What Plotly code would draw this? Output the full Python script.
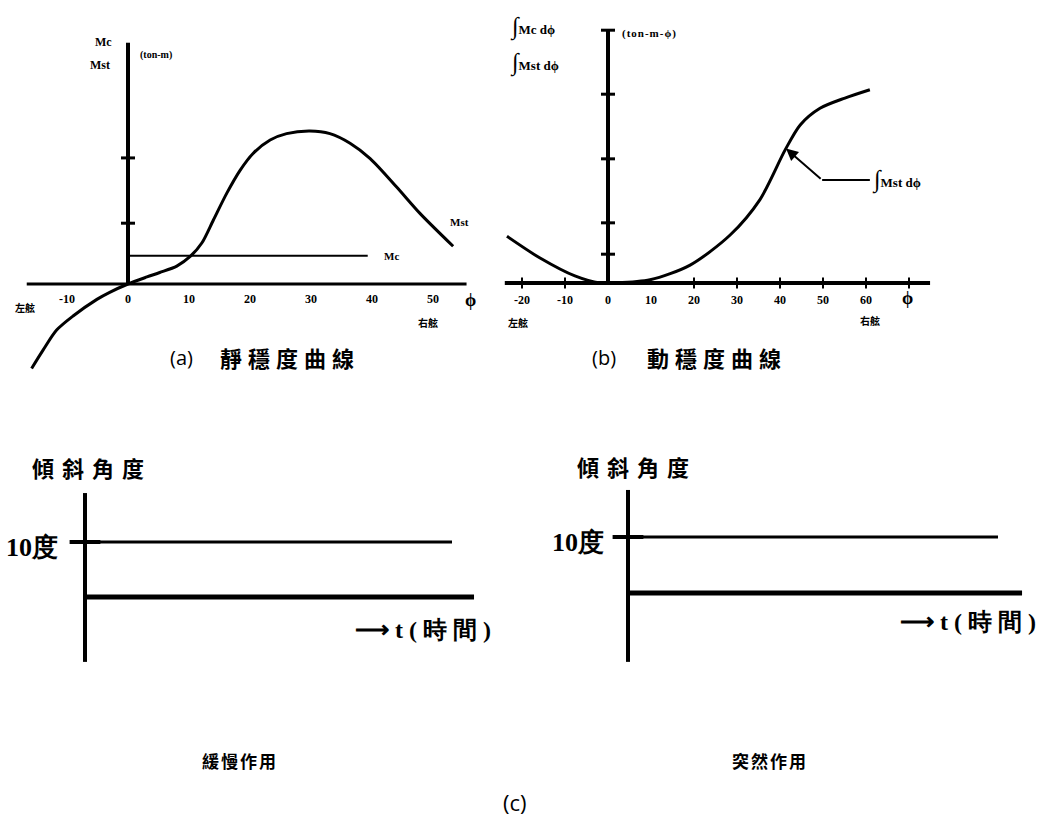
import plotly.graph_objects as go

W, H = 1059, 825

# ---------------- data ----------------
# (a) static stability curve  (phi in degrees, moment in relative units)
phi_a = [-15.8, -13.9, -11.7, -9.0, -5.1, -3.0, 0, 3.1, 5.2, 8.0, 10.2, 12.1, 14.0, 16.2,
         18.4, 20.5, 23.3, 26.0, 29.8, 33.1, 36.4, 39.7, 44.0, 47.9, 53.3]
mst_a = [-1.32, -1.03, -0.72, -0.50, -0.24, -0.13, 0, 0.11, 0.18, 0.28, 0.43, 0.64, 1.00, 1.42,
         1.78, 2.04, 2.25, 2.35, 2.39, 2.35, 2.20, 1.96, 1.52, 1.10, 0.59]
mc_phi = [0, 39.3]
mc_val = [0.44, 0.44]
a_xticks = [-10, 0, 10, 20, 30, 40, 50]
a_xline = [-16.6, 55.5]
a_yline = [0, 3.77]
a_yticks = [0.95, 1.97]

# (b) dynamic stability curve
phi_b = [-23.5, -15.8, -7.7, -1.9, 1.6, 9.8, 19.1, 28.4, 35.3, 41.2, 44.7, 49.3, 55.1, 60.9]
int_b = [0.73, 0.39, 0.11, 0, 0, 0.05, 0.28, 0.75, 1.30, 2.08, 2.47, 2.73, 2.89, 3.02]
b_xticks = [-20, -10, 0, 10, 20, 30, 40, 50, 60]
b_xmarks = [-20, -10, 20, 30, 40, 50, 60, 70]
b_xline = [-24.0, 74.9]
b_yline = [0, 3.95]
b_yticks = [0.45, 0.94, 1.94, 2.95, 3.95]
b_leader_phi = [60.9, 49.8]
b_leader_val = [1.61, 1.61]
b_arrow_tip = (41.4, 2.10)

# (c) heel angle vs time
c_angle = 10
cL_axis = [18.9, -11.8]
cL_thin_t = [0, 10.0]
cL_thick_t = [0, 10.6]
cR_axis = [18.4, -12.3]
cR_thin_t = [0, 10.0]
cR_thick_t = [0, 10.65]

# ---------------- helpers ----------------
def panel(px0, px1, py0, py1, ox, sx, oy, sy):
    xr = [(px0 - ox) / sx, (px1 - ox) / sx]
    yr = [(oy - py1) / sy, (oy - py0) / sy]
    return dict(xd=[px0 / W, px1 / W], yd=[1 - py1 / H, 1 - py0 / H], xr=xr, yr=yr)

def P(px, py):
    return px / W, 1 - py / H

panels = [
    panel(0, 500, 15, 400, 128, 6.1, 284, 64),
    panel(500, 1059, 5, 400, 608, 4.3, 283, 64),
    panel(0, 525, 440, 700, 85, 36.7, 597, 5.5),
    panel(530, 1059, 440, 700, 628, 37.0, 593, 5.6),
]

fig = go.Figure()
layout = dict(width=W, height=H, margin=dict(l=0, r=0, t=0, b=0),
              paper_bgcolor="white", plot_bgcolor="white", showlegend=False)
for i, p in enumerate(panels, start=1):
    s = "" if i == 1 else str(i)
    layout["xaxis" + s] = dict(domain=p["xd"], range=p["xr"], visible=False, anchor="y" + s)
    layout["yaxis" + s] = dict(domain=p["yd"], range=p["yr"], visible=False, anchor="x" + s)
fig.update_layout(**layout)

K = "black"

def line(x, y, ax, w, shape="linear"):
    fig.add_trace(go.Scatter(x=x, y=y, mode="lines", xaxis="x" + ax, yaxis="y" + ax,
                             line=dict(color=K, width=w, shape=shape, smoothing=0.8), hoverinfo="skip"))

def marks(x, y, ax, symbol, size, w):
    fig.add_trace(go.Scatter(x=x, y=y, mode="markers", xaxis="x" + ax, yaxis="y" + ax,
                             marker=dict(symbol=symbol, size=size, color=K,
                                         line=dict(color=K, width=w)), hoverinfo="skip"))

# ---- (a)
line(a_xline, [0, 0], "", 3)
line([0, 0], a_yline, "", 4)
marks([0] * len(a_yticks), a_yticks, "", "line-ew", 10, 3)
line(phi_a, mst_a, "", 3, "spline")
line(mc_phi, mc_val, "", 2)

# ---- (b)
line(b_xline, [0, 0], "2", 4)
line([0, 0], b_yline, "2", 4)
marks([0] * len(b_yticks), b_yticks, "2", "line-ew", 10, 3)
marks(b_xmarks, [0] * len(b_xmarks), "2", "line-ns", 8, 2)
line(phi_b, int_b, "2", 3, "spline")
line(b_leader_phi, b_leader_val, "2", 2)

# ---- (c)
line([0, 0], cL_axis, "3", 4)
line(cL_thin_t, [c_angle, c_angle], "3", 3)
line(cL_thick_t, [0, 0], "3", 5)
marks([0], [c_angle], "3", "line-ew", 22, 4)
line([0, 0], cR_axis, "4", 4)
line(cR_thin_t, [c_angle, c_angle], "4", 3)
line(cR_thick_t, [0, 0], "4", 5)
marks([0], [c_angle], "4", "line-ew", 22, 4)

# ---------------- text ----------------
SERIF = "Liberation Serif"
CJK = "Noto Sans CJK TC"
ann = []

def sp(text, ls):
    return '<span style="letter-spacing:%dpx">%s</span>' % (ls, text)

def txt(text, px, py, size, family=SERIF, xanchor="center", bold=True):
    x, y = P(px, py)
    ann.append(dict(text=("<b>%s</b>" % text) if bold else text, x=x, y=y, xref="paper", yref="paper",
                    xanchor=xanchor, yanchor="middle", showarrow=False,
                    font=dict(family=family, size=size, color=K)))

# tick labels from axis scales
for v in a_xticks:
    ann.append(dict(text="<b>%d</b>" % v, x=v, y=0, xref="x", yref="y", yanchor="top", yshift=-6,
                    showarrow=False, font=dict(family=SERIF, size=12, color=K)))
for v in b_xticks:
    ann.append(dict(text="<b>%d</b>" % v, x=v, y=0, xref="x2", yref="y2", yanchor="top", yshift=-8,
                    showarrow=False, font=dict(family=SERIF, size=12, color=K)))

INT = '<span style="font-size:24px">∫</span>'

# (a)
txt("Mc", 103, 42, 12)
txt("Mst", 100, 65, 12)
txt("(ton-m)", 138, 55, 10, xanchor="left")
txt("Mc", 382, 256, 11, xanchor="left")
txt("Mst", 448, 222, 11, xanchor="left")
txt("ϕ", 470, 300, 18)
txt("左舷", 25, 308, 10, CJK)
txt("右舷", 428, 322, 10, CJK)
txt("(a)", 181, 357, 20, "Open Sans", bold=False)
txt(sp("靜穩度曲線", 6), 290, 357, 22, CJK)

# (b)
txt(INT + "Mc dϕ", 508, 27, 13, xanchor="left")
txt(INT + "Mst dϕ", 508, 63, 13, xanchor="left")
txt(sp("(ton-m-ϕ)", 1), 620, 33, 11, xanchor="left")
txt(INT + "Mst dϕ", 870, 180, 13, xanchor="left")
txt("ϕ", 907, 298, 18)
txt("左舷", 518, 322, 10, CJK)
txt("右舷", 870, 320, 10, CJK)
txt("(b)", 604, 357, 20, "Open Sans", bold=False)
txt(sp("動穩度曲線", 6), 717, 357, 22, CJK)
ann.append(dict(x=b_arrow_tip[0], y=b_arrow_tip[1], ax=b_leader_phi[1], ay=b_leader_val[1],
                xref="x2", yref="y2", axref="x2", ayref="y2", text="", showarrow=True,
                arrowhead=2, arrowsize=1.2, arrowwidth=2, arrowcolor=K))

# (c)
txt(sp("傾斜角度", 8), 92, 467, 22, CJK)
txt("10度", 32, 547, 26, SERIF)
txt("⟶ " + sp("t(時間)", 6), 353, 630, 24, SERIF, xanchor="left")
txt(sp("傾斜角度", 8), 637, 466, 22, CJK)
txt("10度", 578, 542, 26, SERIF)
txt("⟶ " + sp("t(時間)", 6), 898, 622, 24, SERIF, xanchor="left")
txt(sp("緩慢作用", 2), 240, 760, 17, CJK)
txt(sp("突然作用", 2), 770, 760, 17, CJK)
txt("(c)", 515, 802, 22, "Open Sans", bold=False)

fig.update_layout(annotations=ann)
fig.write_html("out.html", config={"displayModeBar": False},
               post_script="document.body.style.margin='0';")
